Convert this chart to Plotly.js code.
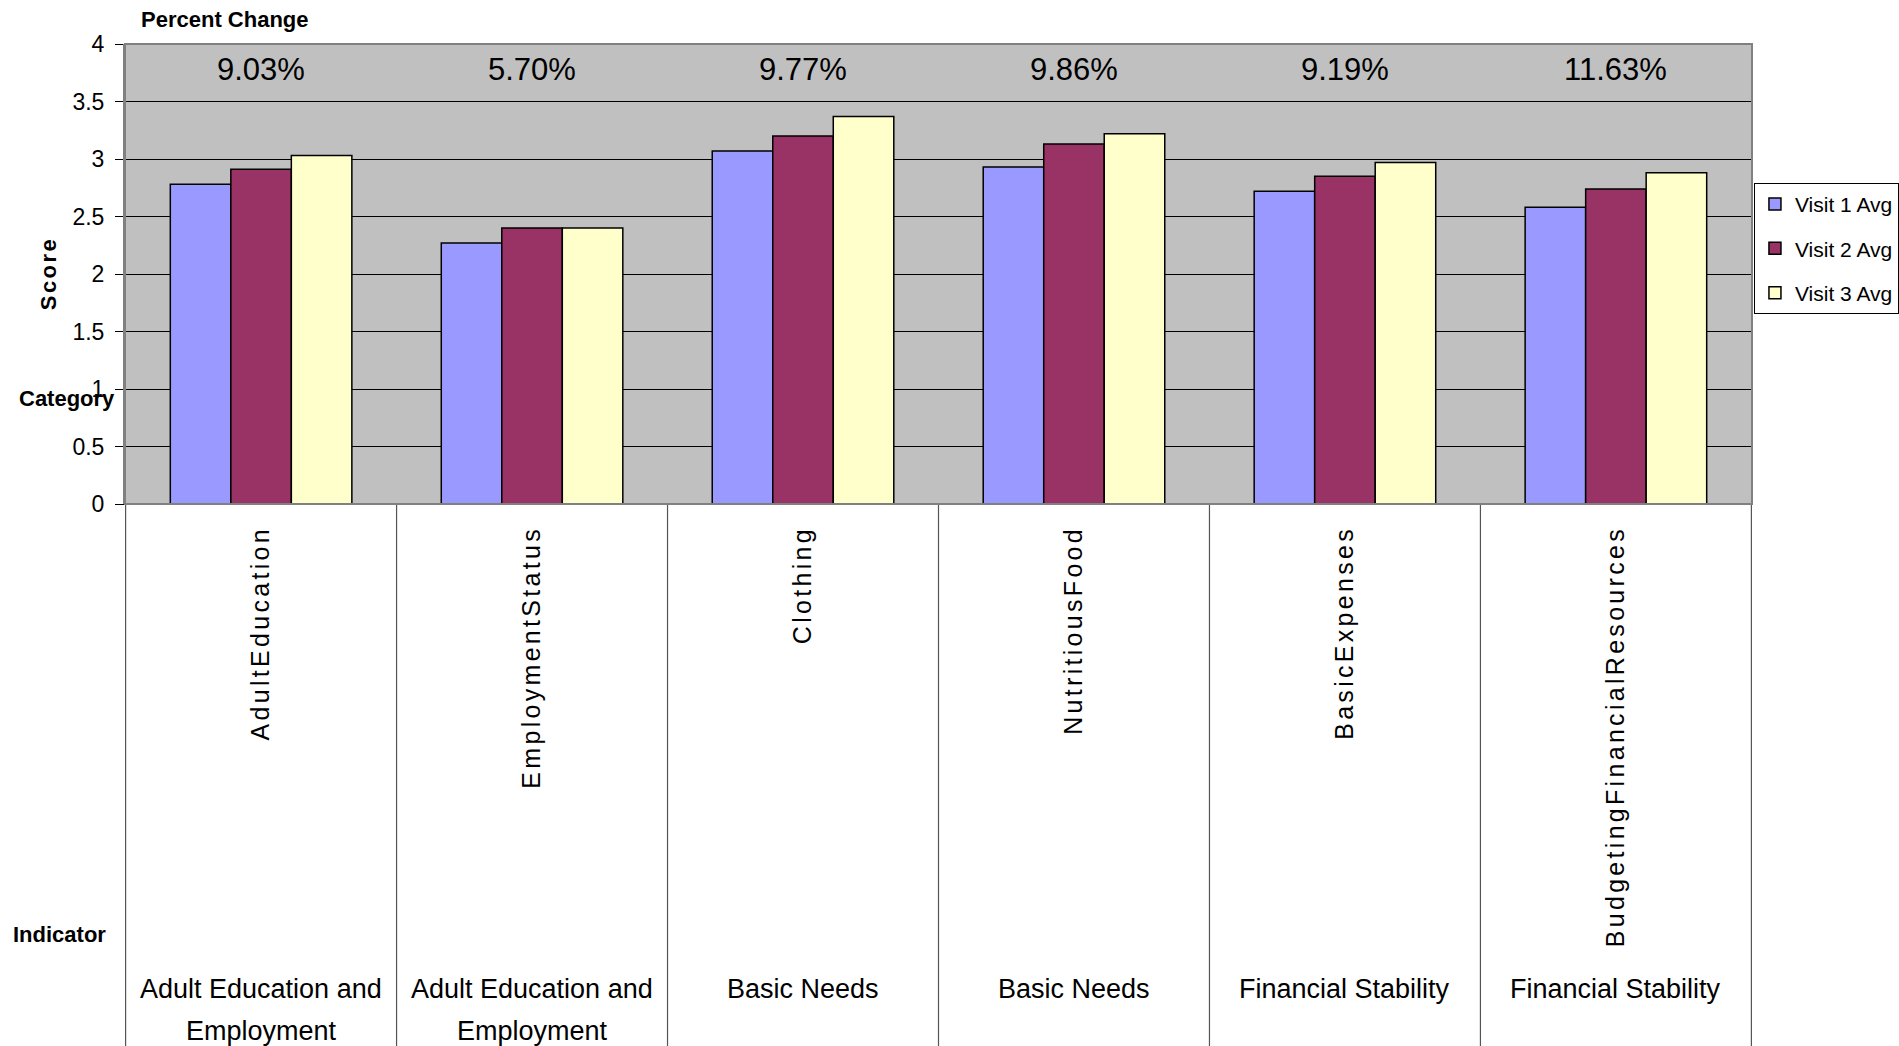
<!DOCTYPE html>
<html><head><meta charset="utf-8">
<script src="https://cdn.plot.ly/plotly-3.0.1.min.js"></script>
<style>
html,body{margin:0;padding:0;background:#fff;}
#chart{width:1899px;height:1046px;}
.xtick text{letter-spacing:3.3px;}
</style></head><body><div id="chart"></div>
<script>
// ---- data ----
const indicators = ['AdultEducation','EmploymentStatus','Clothing','NutritiousFood','BasicExpenses','BudgetingFinancialResources'];
const groupNames = ['Adult Education and Employment','Adult Education and Employment','Basic Needs','Basic Needs','Financial Stability','Financial Stability'];
const visit1 = [2.78, 2.27, 3.07, 2.93, 2.72, 2.58];
const visit2 = [2.91, 2.40, 3.20, 3.13, 2.85, 2.74];
const visit3 = [3.03, 2.40, 3.37, 3.22, 2.97, 2.88];
const percentChange = ['9.03%','5.70%','9.77%','9.86%','9.19%','11.63%'];
const seriesNames = ['Visit 1 Avg','Visit 2 Avg','Visit 3 Avg'];
const seriesColors = ['#9999FF','#993366','#FFFFCC'];
const yTicks = [0, 0.5, 1, 1.5, 2, 2.5, 3, 3.5, 4];
const percentLabelY = 3.78;

const FONT = 'Liberation Sans, Arial, sans-serif';

// detect a narrow font for the group labels
function hasFont(name){
  const c = document.createElement('canvas').getContext('2d');
  const s = 'Adult Education and Employment';
  c.font = '30px monospace'; const a = c.measureText(s).width;
  c.font = '30px "' + name + '", monospace'; const b = c.measureText(s).width;
  return Math.abs(a - b) > 0.5;
}
const narrow = hasFont('Liberation Sans Narrow');
const groupFont = narrow ? {family: 'Liberation Sans Narrow', size: 30, color: '#000'}
                         : {family: FONT, size: 27, color: '#000'};

function wrapLines(s, max){
  const words = s.split(' '); const lines = []; let cur = '';
  words.forEach(w => {
    if (cur && (cur + ' ' + w).length > max) { lines.push(cur); cur = w; }
    else cur = cur ? cur + ' ' + w : w;
  });
  if (cur) lines.push(cur);
  return lines;
}

const series = [visit1, visit2, visit3];
const traces = series.map((vals, i) => ({
  type: 'bar', x: indicators, y: vals, name: seriesNames[i],
  legendgroup: 'g' + i,
  marker: {color: seriesColors[i], line: {color: '#000', width: 1.5}},
  hoverinfo: 'x+y+name'
}));

// plot area: 460 px tall, group label line centres at 989 and 1031 px
const plotBottom = 504, plotH = 460;
const groupLineY = [989, 1031];

const annotations = [];
indicators.forEach((ind, i) => {
  annotations.push({xref: 'x', yref: 'y', x: ind, y: percentLabelY, text: percentChange[i],
    showarrow: false, font: {family: FONT, size: 31, color: '#000'}});
  wrapLines(groupNames[i], 20).forEach((line, k) => {
    annotations.push({xref: 'x', yref: 'paper', x: ind, y: (plotBottom - groupLineY[k]) / plotH,
      yanchor: 'middle', text: line, showarrow: false, font: groupFont});
  });
});
annotations.push({xref: 'paper', yref: 'paper', x: 0.0086, y: 1.054, xanchor: 'left', yanchor: 'middle',
  text: '<b>Percent Change</b>', showarrow: false, font: {family: FONT, size: 22, color: '#000'}});
annotations.push({xref: 'paper', yref: 'paper', x: -0.0666, y: 0.2304, xanchor: 'left', yanchor: 'middle',
  text: '<b>Category</b>', showarrow: false, font: {family: FONT, size: 22, color: '#000'}});
annotations.push({xref: 'paper', yref: 'paper', x: -0.0702, y: -0.935, xanchor: 'left', yanchor: 'middle',
  text: '<b>Indicator</b>', showarrow: false, font: {family: FONT, size: 22, color: '#000'}});
annotations.push({xref: 'paper', yref: 'paper', x: -0.0473, y: 0.5, xanchor: 'center', yanchor: 'middle',
  text: '<b>Score</b>', textangle: -90, showarrow: false, font: {family: FONT, size: 22, color: '#000'}});

const shapes = [];
for (let i = 0; i <= indicators.length; i++) {
  shapes.push({type: 'line', xref: 'x', yref: 'paper', x0: i - 0.5, x1: i - 0.5, y0: 0, y1: -1.3,
    line: {color: '#555', width: 1.2}});
}
shapes.push({type: 'rect', xref: 'paper', yref: 'paper', x0: 0, x1: 1, y0: 0, y1: 1,
  line: {color: '#808080', width: 2}, layer: 'above'});

const layout = {
  width: 1899, height: 1046,
  margin: {l: 125, r: 147, t: 44, b: 542, pad: 0, autoexpand: false},
  paper_bgcolor: '#fff', plot_bgcolor: '#C0C0C0',
  barmode: 'group', bargap: 0.33, bargroupgap: 0,
  font: {family: FONT, color: '#000'},
  showlegend: true,
  legend: {x: 1.0012, xanchor: 'left', y: 0.698, yanchor: 'top', bgcolor: '#fff',
    bordercolor: '#000', borderwidth: 1, tracegroupgap: 14,
    font: {family: FONT, size: 21, color: '#000'}},
  xaxis: {type: 'category', tickangle: -90, ticks: '', showgrid: false, zeroline: false,
    showline: true, linecolor: '#000', linewidth: 1, automargin: false,
    tickfont: {family: FONT, size: 25, color: '#000'}, ticklabelstandoff: 11},
  yaxis: {range: [0, 4], tickvals: yTicks, ticks: 'outside', ticklen: 8, tickcolor: '#000', tickwidth: 1,
    showgrid: true, gridcolor: '#000', gridwidth: 1, zeroline: false, showline: true,
    linecolor: '#808080', linewidth: 2, automargin: false,
    tickfont: {family: FONT, size: 23, color: '#000'}, ticklabelstandoff: 6},
  annotations: annotations, shapes: shapes
};

Plotly.newPlot('chart', traces, layout, {displayModeBar: false, staticPlot: true}).then(() => {
  document.querySelectorAll('.annotation text').forEach(t => {
    if (t.textContent === 'Score') t.style.letterSpacing = '2.5px';
  });
});
</script></body></html>
